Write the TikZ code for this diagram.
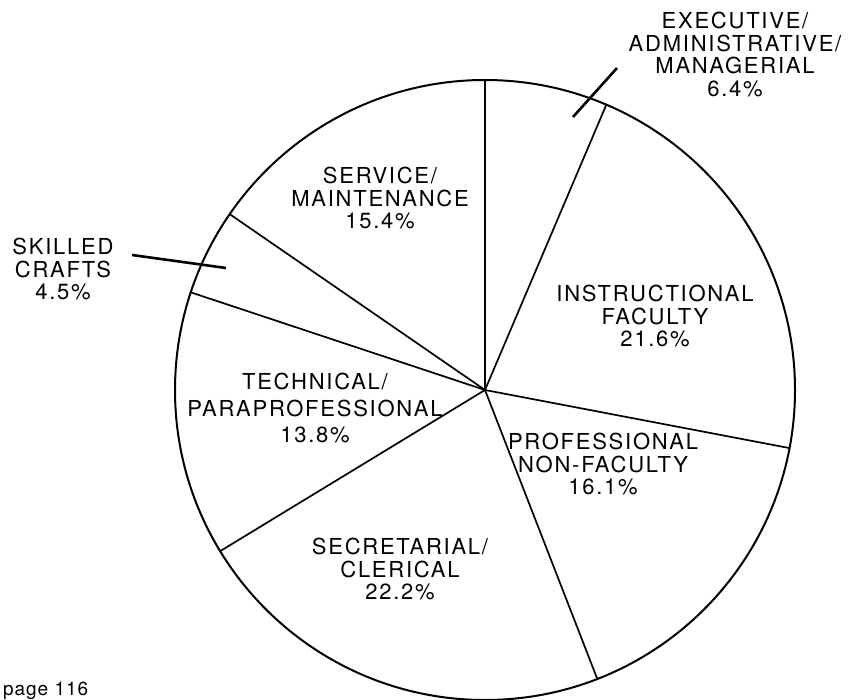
\documentclass[tikz,border=0pt]{standalone}
\usepackage{fontspec}
\newfontfamily\piefont[LetterSpace=8]{TeX Gyre Heros}
\newfontfamily\pagefont[LetterSpace=5]{TeX Gyre Heros}
\newcommand\lblfont{\piefont\fontsize{22}{22.5}\selectfont}

\begin{document}
\begin{tikzpicture}[x=1pt,y=-1pt,
    rim/.style={line width=2pt},
    wedge/.style={line width=1.7pt},
    leader/.style={line width=2.6pt},
    lbl/.style={font=\lblfont,align=center,anchor=north,inner sep=0pt}
  ]
  \useasboundingbox (0,0) rectangle (851,700);
  \coordinate (c) at (485,390);
  \draw[rim] (c) circle[radius=310pt];
  % cumulative shares, clockwise from the top
  \foreach \p in {0,6.4,28.0,44.1,66.3,80.1,84.6}{
    \draw[wedge] (c) -- ++({90-3.6*\p}:310pt);
  }

  \node[lbl] (exec) at (735,12) {EXECUTIVE/\\ADMINISTRATIVE/\\MANAGERIAL\\6.4\%};
  \node[lbl] (instr) at (655,285) {INSTRUCTIONAL\\FACULTY\\21.6\%};
  \node[lbl] (prof) at (603,433) {PROFESSIONAL\\NON-FACULTY\\16.1\%};
  \node[lbl] (secr) at (400,538) {SECRETARIAL/\\CLERICAL\\22.2\%};
  \node[lbl,font={\piefont\fontsize{22}{26.5}\selectfont}] (tech) at (315,373) {TECHNICAL/\\PARAPROFESSIONAL\\13.8\%};
  \node[lbl] (craft) at (63,238) {SKILLED\\CRAFTS\\4.5\%};
  \node[lbl] (serv) at (380,167) {SERVICE/\\MAINTENANCE\\15.4\%};

  \coordinate (execa) at (617,68);
  \coordinate (execb) at (573,117);
  \draw[leader] (execa) -- (execb);
  \coordinate (crafta) at (132,255);
  \coordinate (craftb) at (226,268);
  \draw[leader] (crafta) -- (craftb);

  \node[font=\pagefont\fontsize{19}{22}\selectfont,anchor=base west,inner sep=0pt] (page) at (3,695) {page 116};
\end{tikzpicture}
\end{document}
